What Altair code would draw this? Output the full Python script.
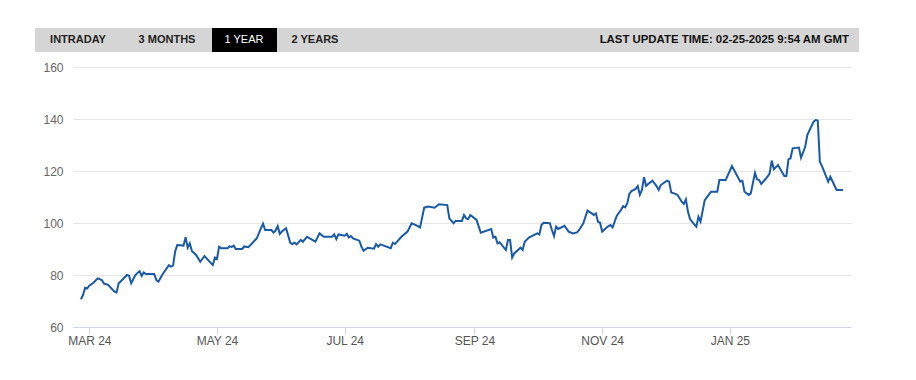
import altair as alt
import pandas as pd

# ---- data ----
dates = [
    "2024-02-26", "2024-02-27", "2024-02-28", "2024-02-29", "2024-03-01", "2024-03-03",
    "2024-03-05", "2024-03-07", "2024-03-08", "2024-03-10", "2024-03-13", "2024-03-14",
    "2024-03-15", "2024-03-19", "2024-03-20", "2024-03-21", "2024-03-23", "2024-03-25",
    "2024-03-26", "2024-03-27", "2024-03-28", "2024-04-01", "2024-04-02", "2024-04-03",
    "2024-04-05", "2024-04-08", "2024-04-09", "2024-04-10", "2024-04-11", "2024-04-12",
    "2024-04-15", "2024-04-16", "2024-04-17", "2024-04-18", "2024-04-19", "2024-04-21",
    "2024-04-23", "2024-04-25", "2024-04-29", "2024-04-30", "2024-05-01", "2024-05-02",
    "2024-05-03", "2024-05-06", "2024-05-07", "2024-05-08", "2024-05-09", "2024-05-10",
    "2024-05-13", "2024-05-14", "2024-05-16", "2024-05-18", "2024-05-20", "2024-05-22",
    "2024-05-23", "2024-05-24", "2024-05-27", "2024-05-28", "2024-05-29", "2024-05-30",
    "2024-05-31", "2024-06-01", "2024-06-03", "2024-06-05", "2024-06-06", "2024-06-07",
    "2024-06-08", "2024-06-10", "2024-06-11", "2024-06-13", "2024-06-17", "2024-06-19",
    "2024-06-21", "2024-06-25", "2024-06-26", "2024-06-27", "2024-06-28", "2024-07-01",
    "2024-07-02", "2024-07-03", "2024-07-04", "2024-07-05", "2024-07-08", "2024-07-09",
    "2024-07-10", "2024-07-12", "2024-07-15", "2024-07-16", "2024-07-17", "2024-07-18",
    "2024-07-23", "2024-07-24", "2024-07-25", "2024-07-28", "2024-07-31", "2024-08-02",
    "2024-08-04", "2024-08-06", "2024-08-08", "2024-08-10", "2024-08-13", "2024-08-15",
    "2024-08-19", "2024-08-20", "2024-08-22", "2024-08-23", "2024-08-26", "2024-08-27",
    "2024-08-28", "2024-08-29", "2024-08-30", "2024-09-02", "2024-09-04", "2024-09-09",
    "2024-09-10", "2024-09-11", "2024-09-12", "2024-09-13", "2024-09-16", "2024-09-17",
    "2024-09-18", "2024-09-19", "2024-09-20", "2024-09-23", "2024-09-24", "2024-09-25",
    "2024-09-27", "2024-10-01", "2024-10-02", "2024-10-03", "2024-10-04", "2024-10-07",
    "2024-10-08", "2024-10-09", "2024-10-10", "2024-10-11", "2024-10-14", "2024-10-16",
    "2024-10-18", "2024-10-20", "2024-10-21", "2024-10-23", "2024-10-25", "2024-10-27",
    "2024-10-28", "2024-10-29", "2024-10-30", "2024-10-31", "2024-11-01", "2024-11-04",
    "2024-11-05", "2024-11-06", "2024-11-08", "2024-11-10", "2024-11-11", "2024-11-12",
    "2024-11-13", "2024-11-14", "2024-11-15", "2024-11-17", "2024-11-18", "2024-11-19",
    "2024-11-20", "2024-11-21", "2024-11-22", "2024-11-23", "2024-11-25", "2024-11-27",
    "2024-11-28", "2024-11-29", "2024-12-02", "2024-12-03", "2024-12-04", "2024-12-06",
    "2024-12-07", "2024-12-09", "2024-12-10", "2024-12-11", "2024-12-12", "2024-12-13",
    "2024-12-15", "2024-12-16", "2024-12-17", "2024-12-18", "2024-12-20", "2024-12-23",
    "2024-12-26", "2024-12-27", "2024-12-30", "2025-01-02", "2025-01-06", "2025-01-07",
    "2025-01-08", "2025-01-10", "2025-01-11", "2025-01-13", "2025-01-14", "2025-01-15",
    "2025-01-16", "2025-01-19", "2025-01-20", "2025-01-21", "2025-01-22", "2025-01-24",
    "2025-01-27", "2025-01-28", "2025-01-29", "2025-01-30", "2025-01-31", "2025-02-03",
    "2025-02-04", "2025-02-06", "2025-02-07", "2025-02-10", "2025-02-11", "2025-02-12",
    "2025-02-13", "2025-02-14", "2025-02-17", "2025-02-18", "2025-02-21", "2025-02-24",
]
prices = [
    70.7, 72.3, 75.1, 74.9, 75.9, 77.0,
    78.7, 78.1, 76.7, 76.2, 73.6, 73.3,
    76.7, 80.0, 79.7, 76.8, 80.0, 81.5,
    79.7, 81.0, 80.4, 80.4, 78.1, 77.4,
    80.3, 83.8, 83.2, 83.6, 89.0, 91.5,
    91.3, 94.5, 90.5, 92.2, 89.2, 87.7,
    85.1, 87.3, 83.8, 86.7, 86.2, 90.9,
    90.3, 90.3, 91.0, 90.8, 91.3, 90.0,
    90.0, 91.0, 90.7, 92.4, 94.1, 98.0,
    99.7, 97.3, 97.3, 96.3, 97.1, 98.8,
    95.8, 96.7, 98.0, 92.4, 91.9, 92.4,
    91.8, 93.5, 92.8, 94.7, 92.8, 96.0,
    94.7, 94.7, 95.6, 93.8, 95.6, 95.1,
    95.8, 94.4, 95.0, 94.1, 93.2, 90.9,
    89.3, 90.5, 90.1, 91.9, 90.9, 91.8,
    90.3, 92.4, 91.9, 94.6, 96.7, 99.9,
    99.2, 98.3, 105.9, 106.3, 105.9, 107.2,
    106.9, 101.8, 99.9, 100.8, 100.8, 103.1,
    101.8, 101.5, 103.1, 101.2, 96.3, 97.7,
    94.4, 94.7, 92.2, 92.6, 89.6, 93.5,
    93.5, 86.7, 88.3, 90.5, 89.6, 92.8,
    94.4, 96.0, 95.6, 99.2, 100.1, 99.9,
    97.3, 95.0, 98.6, 97.7, 98.9, 96.7,
    96.0, 96.4, 97.3, 99.9, 104.8, 103.7,
    103.1, 103.7, 100.5, 100.1, 96.7, 98.8,
    99.2, 98.3, 102.8, 105.0, 106.5, 106.0,
    107.6, 111.2, 112.3, 113.1, 114.2, 110.8,
    112.7, 117.6, 114.3, 115.0, 116.3, 114.2,
    112.7, 114.6, 116.3, 115.9, 111.7, 111.2,
    110.8, 108.2, 107.3, 109.1, 104.3, 101.4,
    99.5, 98.6, 102.4, 100.5, 108.8, 112.0,
    112.0, 116.5, 116.5, 121.9, 115.9, 116.2,
    112.0, 110.8, 111.4, 119.3, 116.8, 116.5,
    115.0, 117.8, 119.1, 124.0, 120.7, 122.3,
    118.1, 118.1, 124.5, 124.9, 128.7, 129.0,
    125.1, 129.3, 133.8, 139.0, 139.6, 139.4,
    123.6, 121.9, 115.9, 117.8, 112.7, 112.7,
]
y_ticks = [60, 80, 100, 120, 140, 160]
tab_labels = ["INTRADAY", "3 MONTHS", "1 YEAR", "2 YEARS"]
selected_tab = "1 YEAR"
update_text = "LAST UPDATE TIME: 02-25-2025 9:54 AM GMT"

df = pd.DataFrame({"date": dates, "price": prices})

W, H = 778, 260
FONT = "Liberation Sans"

x_start = alt.DateTime(year=2024, month=2, date=22, hours=5, utc=True)
x_end = alt.DateTime(year=2025, month=2, date=27, hours=21, utc=True)
x_ticks = [alt.DateTime(year=2024, month=m, date=1, utc=True) for m in (3, 5, 7, 9, 11)]
x_ticks.append(alt.DateTime(year=2025, month=1, date=1, utc=True))

line = alt.Chart(df).mark_line(color="#1a59a6", strokeWidth=2).encode(
    x=alt.X(
        "date:T",
        scale=alt.Scale(type="utc", domain=[x_start, x_end]),
        axis=alt.Axis(
            values=x_ticks,
            labelExpr="upper(utcFormat(datum.value, '%b %y'))",
            title=None, grid=False,
            domainColor="#ccd6eb", tickColor="#ccd6eb", tickSize=7,
            labelFont=FONT, labelFontSize=12, labelColor="#555555",
            labelPadding=1, labelFlush=False, labelOverlap=False,
        ),
    ),
    y=alt.Y(
        "price:Q",
        scale=alt.Scale(domain=[60, 160], nice=False, zero=False),
        axis=alt.Axis(
            values=y_ticks, title=None, grid=True, gridColor="#e6e6e6",
            domain=False, ticks=False, labelPadding=10,
            labelFont=FONT, labelFontSize=12, labelColor="#666666",
        ),
    ),
)

one = alt.Data(values=[{}])

band = alt.Chart(one).mark_rect(color="#d5d5d5").encode(
    x=alt.value(-38), x2=alt.value(786), y=alt.value(-39), y2=alt.value(-15)
)
sel_box = alt.Chart(one).mark_rect(color="#000000").encode(
    x=alt.value(139), x2=alt.value(204), y=alt.value(-39), y2=alt.value(-15)
)

tab_centers = [5, 94, 171, 242]
layers = [band, sel_box]
for lab, cx in zip(tab_labels, tab_centers):
    is_sel = lab == selected_tab
    layers.append(
        alt.Chart(one).mark_text(
            align="center", baseline="middle", font=FONT, fontSize=11,
            fontWeight="normal" if is_sel else "bold",
            color="#ffffff" if is_sel else "#222222",
        ).encode(x=alt.value(cx), y=alt.value(-27), text=alt.value(lab))
    )
layers.append(
    alt.Chart(one).mark_text(
        align="right", baseline="middle", font=FONT, fontSize=11.4,
        fontWeight="bold", color="#111111",
    ).encode(x=alt.value(776), y=alt.value(-27), text=alt.value(update_text))
)

chart = alt.layer(line, *layers).properties(
    width=W, height=H,
    padding={"left": 65, "top": 59, "right": 40, "bottom": 30},
    autosize=alt.AutoSizeParams(type="none"),
).configure_view(stroke=None)

chart.save("out.html", embed_options={"renderer": "svg", "actions": False})
